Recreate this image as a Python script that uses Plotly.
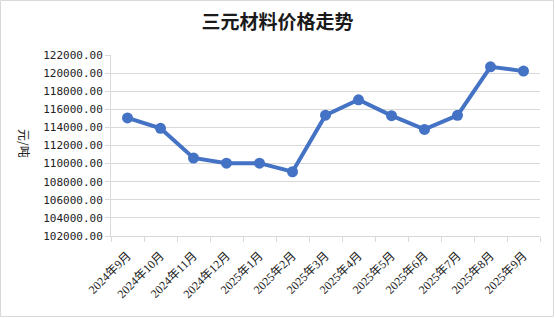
import plotly.graph_objects as go

categories = ["2024年9月", "2024年10月", "2024年11月", "2024年12月", "2025年1月",
              "2025年2月", "2025年3月", "2025年4月", "2025年5月", "2025年6月",
              "2025年7月", "2025年8月", "2025年9月"]
prices = [115050, 113900, 110620, 110050, 110050, 109100, 115350,
          117050, 115300, 113780, 115330, 120700, 120220]
y_ticks = [102000, 104000, 106000, 108000, 110000, 112000, 114000,
           116000, 118000, 120000, 122000]
y_tick_labels = [f"{v:.2f}" for v in y_ticks]

W, H = 555, 318
L, R, T, B = 111, 15, 55, 82
pw, ph = W - L - R, H - T - B

fig = go.Figure(go.Scatter(
    x=categories, y=prices, mode="lines+markers",
    line=dict(color="#4472C4", width=4),
    marker=dict(color="#4472C4", size=11),
    hoverinfo="skip", cliponaxis=False,
))

grid = "#d9d9d9"
fig.update_layout(
    width=W, height=H,
    margin=dict(l=L, r=R, t=T, b=B),
    paper_bgcolor="white", plot_bgcolor="white",
    showlegend=False,
    title=dict(text="<b>三元材料价格走势</b>", x=0.5, xanchor="center",
               y=1 - 22 / H, yanchor="middle",
               font=dict(family="Noto Sans CJK SC", size=19, color="#1a1a1a")),
    xaxis=dict(
        type="category", range=[-0.5, len(categories) - 0.5],
        tickangle=-45, tickson="boundaries",
        ticks="outside", ticklen=5, tickcolor=grid, ticklabelstandoff=7,
        showline=True, linecolor=grid, linewidth=1, showgrid=False,
        tickfont=dict(family="Liberation Serif, Noto Sans CJK SC", size=12, color="#222"),
        fixedrange=True,
    ),
    yaxis=dict(
        range=[102000, 122000], tickvals=y_ticks, ticktext=y_tick_labels,
        ticks="outside", ticklen=5, tickcolor=grid,
        showline=True, linecolor=grid, linewidth=1,
        showgrid=True, gridcolor=grid, gridwidth=1, zeroline=False,
        tickfont=dict(family="DejaVu Sans Mono, Noto Sans CJK SC", size=11, color="#222"),
        fixedrange=True,
    ),
    annotations=[dict(
        text="元/吨", textangle=90, showarrow=False,
        xref="paper", yref="paper",
        x=(25 - L) / pw, y=(H - B - 143) / ph,
        xanchor="center", yanchor="middle",
        font=dict(family="Noto Sans CJK SC", size=12, color="#222"),
    )],
    shapes=[dict(
        type="rect", xref="paper", yref="paper",
        x0=(0.5 - L) / pw, x1=(553.5 - L) / pw,
        y0=(H - B - 316.5) / ph, y1=(H - B - 0.5) / ph,
        line=dict(color=grid, width=1), fillcolor="rgba(0,0,0,0)", layer="below",
    )],
)

fig.write_html("out.html")
